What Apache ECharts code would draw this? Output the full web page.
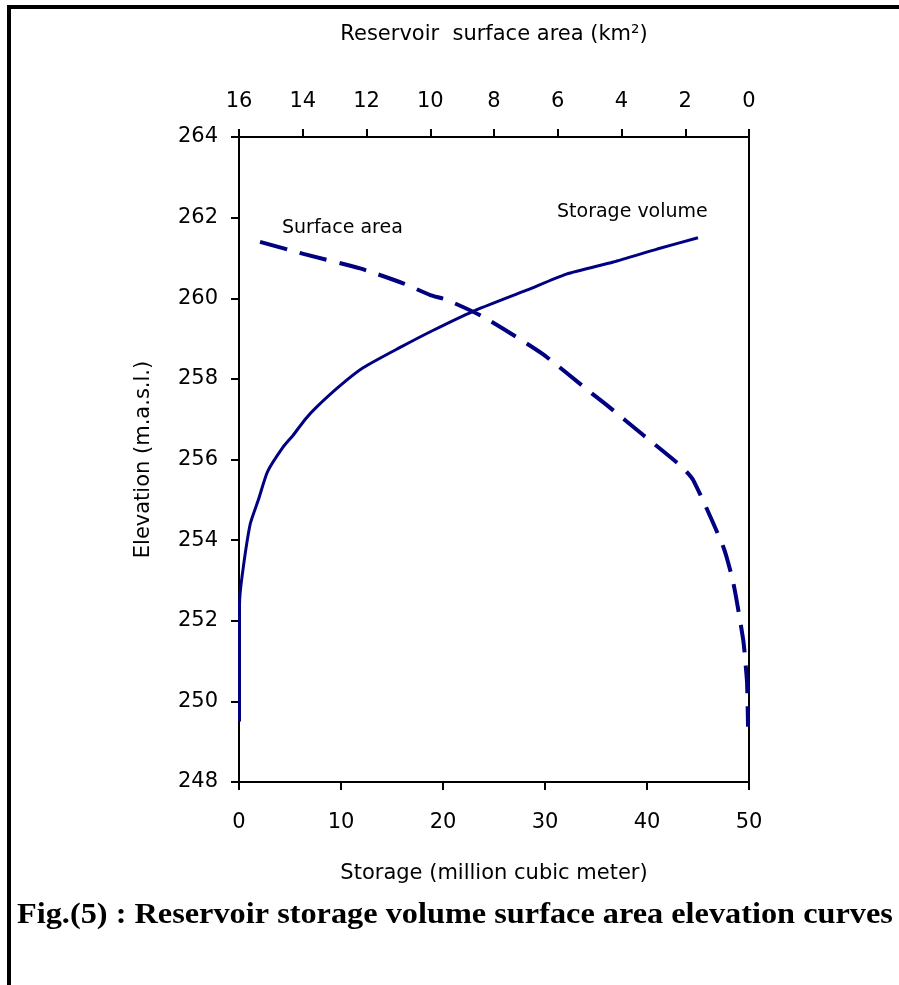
<!DOCTYPE html>
<html>
<head>
<meta charset="utf-8">
<script src="https://cdn.jsdelivr.net/npm/echarts@6/dist/echarts.min.js"></script>
<style>
html,body{margin:0;padding:0;background:#fff;}
#chart{width:899px;height:985px;}
</style>
</head>
<body>
<div id="chart"></div>
<script>
// ---- data ----
var storageVolume = [0.05, 0.05, 0.3, 1.1, 1.9, 2.8, 4.3, 5.3, 6.5, 7.6, 10.0, 12.2, 15.8, 19.0, 22.9, 28.2, 32.1, 36.7, 41.0, 45.0];
var storageElev   = [249.5, 252.4, 253.1, 254.4, 255.0, 255.7, 256.3, 256.6, 257.0, 257.3, 257.85, 258.28, 258.78, 259.2, 259.67, 260.2, 260.6, 260.9, 261.22, 261.5];

var surfaceArea = [15.34, 13.98, 12.2, 10.85, 10.0, 9.48, 8.34, 6.5, 4.93, 4.46, 3.31, 2.11, 1.75, 0.81, 0.49, 0.18, 0.10, 0.06, 0.03];
var surfaceElev = [261.4, 261.1, 260.74, 260.37, 260.08, 259.96, 259.54, 258.63, 257.64, 257.35, 256.6, 255.82, 255.49, 253.84, 252.93, 251.52, 250.86, 250.45, 249.37];

var storageTicks = [0, 10, 20, 30, 40, 50];
var areaTicks = [0, 2, 4, 6, 8, 10, 12, 14, 16];
var elevTicks = [248, 250, 252, 254, 256, 258, 260, 262, 264];

var xTitle = 'Storage (million cubic meter)';
var x2Title = 'Reservoir  surface area (km\u00B2)';
var yTitle = 'Elevation (m.a.s.l.)';
var caption = 'Fig.(5) : Reservoir storage volume surface area elevation curves';
var storageLabel = 'Storage volume';
var areaLabel = 'Surface area';

// ---- build ----
function pairs(xs, ys){ return xs.map(function(x,i){ return [x, ys[i]]; }); }

var FONT = '"DejaVu Sans", "Liberation Sans", Arial, sans-serif';
var NAVY = '#000080';
var axisLine = {show:true, lineStyle:{color:'#000', width:2}};
var tick = {show:true, inside:false, length:8, lineStyle:{color:'#000', width:2}};
var labelStyle = function(m){ return {color:'#000', fontFamily:FONT, fontSize:21, margin:m}; };
var nameStyle = {color:'#000', fontFamily:FONT, fontSize:21};

var chart = echarts.init(document.getElementById('chart'), null, {renderer:'canvas'});
chart.setOption({
  backgroundColor:'#fff',
  animation:false,
  grid:{left:239, right:150, top:137, bottom:203, containLabel:false},
  xAxis:[{
    type:'value', position:'bottom',
    min:storageTicks[0], max:storageTicks[storageTicks.length-1], interval:10,
    axisLine:axisLine, axisTick:tick, axisLabel:labelStyle(30),
    splitLine:{show:false},
    name:xTitle, nameLocation:'middle', nameGap:81, nameTextStyle:nameStyle
  },{
    type:'value', position:'top', inverse:true,
    min:areaTicks[0], max:areaTicks[areaTicks.length-1], interval:2,
    axisLine:axisLine, axisTick:tick, axisLabel:labelStyle(25),
    splitLine:{show:false},
    name:x2Title, nameLocation:'middle', nameGap:92, nameTextStyle:nameStyle
  }],
  yAxis:[{
    type:'value', position:'left',
    min:elevTicks[0], max:elevTicks[elevTicks.length-1], interval:2,
    axisLine:axisLine, axisTick:tick, axisLabel:labelStyle(21),
    splitLine:{show:false},
    name:yTitle, nameLocation:'middle', nameGap:85, nameRotate:90, nameTextStyle:nameStyle
  },{
    type:'value', position:'right',
    min:elevTicks[0], max:elevTicks[elevTicks.length-1], interval:2,
    axisLine:axisLine, axisTick:{show:false}, axisLabel:{show:false}, splitLine:{show:false}
  }],
  series:[{
    name:storageLabel, type:'line', xAxisIndex:0, yAxisIndex:0,
    data:pairs(storageVolume, storageElev), smooth:0.2,
    showSymbol:false, symbol:'none',
    lineStyle:{color:NAVY, width:3}
  },{
    name:areaLabel, type:'line', xAxisIndex:1, yAxisIndex:0,
    data:pairs(surfaceArea, surfaceElev), smooth:0.2,
    showSymbol:false, symbol:'none',
    lineStyle:{color:NAVY, width:4, type:[28,13]}
  }],
  graphic:[
    {type:'rect', shape:{x:7, y:5, width:892, height:4}, style:{fill:'#000'}, silent:true},
    {type:'rect', shape:{x:7, y:5, width:4, height:980}, style:{fill:'#000'}, silent:true},
    {type:'text', x:282, y:219, style:{text:areaLabel, font:'19px '+FONT, fill:'#000'}},
    {type:'text', x:557, y:203, style:{text:storageLabel, font:'19px '+FONT, fill:'#000'}},
    {type:'text', x:17, y:901, scaleX:1.114, originX:0, originY:0,
     style:{text:caption, font:'bold 29px "Liberation Serif", "Times New Roman", serif', fill:'#000'}}
  ]
});
</script>
</body>
</html>
